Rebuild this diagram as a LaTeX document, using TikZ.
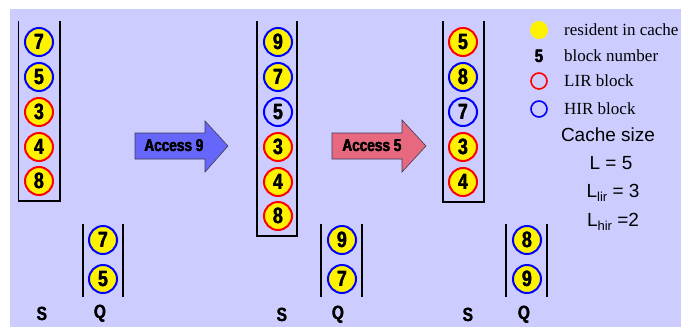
\documentclass[tikz,border=0pt]{standalone}
\usepackage{fontspec}
\setmainfont{Liberation Serif}
\newfontfamily\arialf{Liberation Sans}
\definecolor{bg}{RGB}{204,204,255}
\definecolor{arrblue}{RGB}{102,102,250}
\definecolor{arrpink}{RGB}{230,105,128}
\definecolor{arredge}{RGB}{60,60,80}
\newcommand{\cond}[1]{\scalebox{0.8}[1]{\arialf\bfseries\rlap{\kern0.7pt #1}\rlap{\kern0.35pt #1}#1\kern0.7pt}}
\tikzset{
  blk/.style={circle, minimum size=28pt, inner sep=0pt, line width=2pt, fill=yellow,
    font=\fontsize{22}{22}\selectfont},
  lir/.style={blk, draw=red},
  hir/.style={blk, draw=blue},
  hirout/.style={hir, fill=none},
  stackline/.style={line width=1.3pt, black},
  lbl/.style={font=\fontsize{19}{19}\selectfont},
  acc/.style={line width=0.6pt, draw=arredge},
  acctext/.style={font=\fontsize{17}{17}\selectfont},
  legtext/.style={anchor=west, inner sep=0pt, font=\fontsize{17}{17}\selectfont},
  cachetext/.style={inner sep=0pt, font=\fontsize{19}{19}\selectfont\arialf}
}
\newcommand{\subsc}[1]{\raisebox{-4pt}{\fontsize{13}{13}\selectfont #1}}
\begin{document}
\begin{tikzpicture}[x=1pt,y=-1pt]
\useasboundingbox (0,0) rectangle (681,327);
\fill[bg] (10,9) rectangle (681,327);

% ---------- state 1 ----------
\draw[stackline] (18.5,21) -- (18.5,201) -- (60,201) -- (60,21);
\node[hir] (s1a) at (39,42) {\cond{7}};
\node[hir] (s1b) at (39,77) {\cond{5}};
\node[lir] (s1c) at (39,112) {\cond{3}};
\node[lir] (s1d) at (39,147) {\cond{4}};
\node[lir] (s1e) at (39,181) {\cond{8}};
\draw[stackline] (83,224) -- (83,297);
\draw[stackline] (123,224) -- (123,297);
\node[hir] (q1a) at (103,240) {\cond{7}};
\node[hir] (q1b) at (103,279) {\cond{5}};
\node[lbl] (S1) at (42,314) {\cond{S}};
\node[lbl] (Q1) at (100,314) {\cond{Q}};

% ---------- arrow 1 ----------
\filldraw[acc, fill=arrblue] (135,133) -- (205,133) -- (205,121) -- (228,146) -- (205,172) -- (205,159) -- (135,159) -- cycle;
\node[acctext] (acc9) at (174,146) {\cond{Access 9}};

% ---------- state 2 ----------
\draw[stackline] (257,21) -- (257,236) -- (297,236) -- (297,21);
\node[hir] (s2a) at (278,42) {\cond{9}};
\node[hir] (s2b) at (278,77) {\cond{7}};
\node[hirout] (s2c) at (278,112) {\cond{5}};
\node[lir] (s2d) at (278,147) {\cond{3}};
\node[lir] (s2e) at (278,182) {\cond{4}};
\node[lir] (s2f) at (278,216) {\cond{8}};
\draw[stackline] (321,224) -- (321,297);
\draw[stackline] (362,224) -- (362,297);
\node[hir] (q2a) at (342,240) {\cond{9}};
\node[hir] (q2b) at (342,279) {\cond{7}};
\node[lbl] (S2) at (282,315) {\cond{S}};
\node[lbl] (Q2) at (338,315) {\cond{Q}};

% ---------- arrow 2 ----------
\filldraw[acc, fill=arrpink] (332,133) -- (402,133) -- (402,120) -- (426,146) -- (402,172) -- (402,159) -- (332,159) -- cycle;
\node[acctext] (acc5) at (372,146) {\cond{Access 5}};

% ---------- state 3 ----------
\draw[stackline] (443,21) -- (443,202) -- (484,202) -- (484,21);
\node[lir] (s3a) at (463,42) {\cond{5}};
\node[hir] (s3b) at (463,77) {\cond{8}};
\node[hirout] (s3c) at (463,112) {\cond{7}};
\node[lir] (s3d) at (463,147) {\cond{3}};
\node[lir] (s3e) at (463,182) {\cond{4}};
\draw[stackline] (506,224) -- (506,297);
\draw[stackline] (547,224) -- (547,297);
\node[hir] (q3a) at (527,240) {\cond{8}};
\node[hir] (q3b) at (527,279) {\cond{9}};
\node[lbl] (S3) at (468,315) {\cond{S}};
\node[lbl] (Q3) at (524,315) {\cond{Q}};

% ---------- legend ----------
\node[circle, fill=yellow, minimum size=18pt, inner sep=0pt] (lg1) at (539,30) {};
\node[font=\fontsize{18}{18}\selectfont, inner sep=0pt] (lg2) at (539,56) {\cond{5}};
\node[circle, draw=red, line width=1.6pt, minimum size=16pt, inner sep=0pt] (lg3) at (539,81) {};
\node[circle, draw=blue, line width=1.6pt, minimum size=16pt, inner sep=0pt] (lg4) at (539,109) {};
\node[legtext] (t1) at (564,30) {resident in cache};
\node[legtext] (t2) at (564,56) {block number};
\node[legtext] (t3) at (564,81) {LIR block};
\node[legtext] (t4) at (564,109) {HIR block};

\node[cachetext] (c1) at (608,135) {Cache size};
\node[cachetext] (c2) at (611,163) {L = 5};
\node[cachetext] (c3) at (613,193) {L\subsc{lir} = 3};
\node[cachetext] (c4) at (613,222) {L\subsc{hir} =2};
\end{tikzpicture}
\end{document}
